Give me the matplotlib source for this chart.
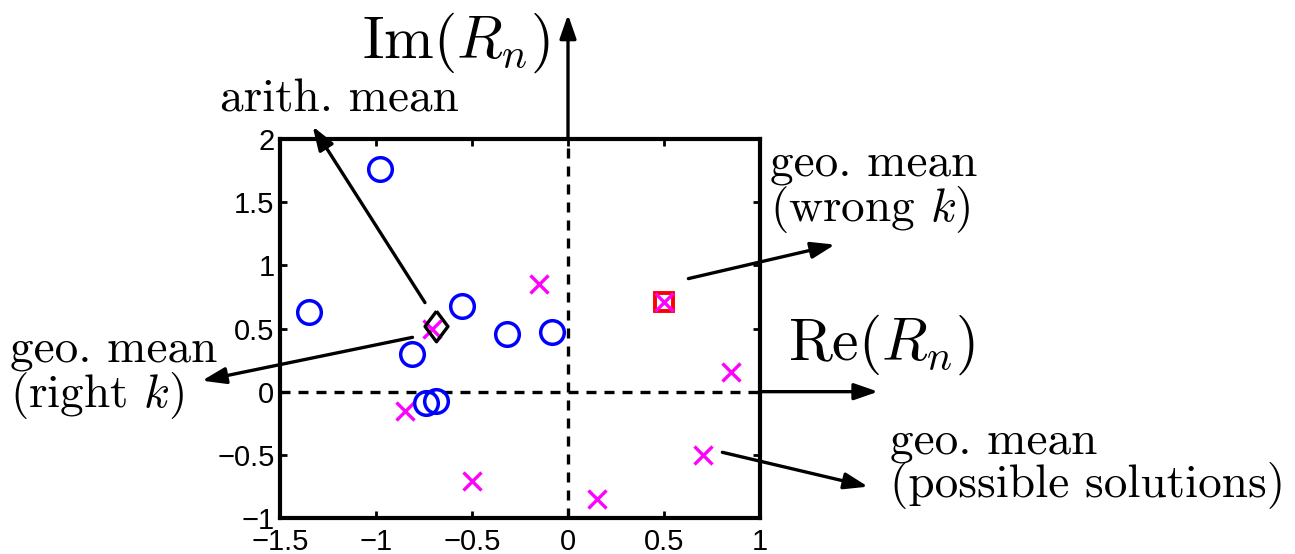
import numpy as np
import matplotlib
matplotlib.use("Agg")
import matplotlib.pyplot as plt

plt.rcParams['mathtext.fontset'] = 'cm'
plt.rcParams['font.family'] = ['Liberation Sans', 'DejaVu Sans']

# samples (blue circles)
circ_re = [-0.98, -1.35, -0.81, -0.55, -0.32, -0.085, -0.74, -0.69]
circ_im = [1.76, 0.63, 0.30, 0.68, 0.46, 0.47, -0.09, -0.07]

# geo. mean, possible solutions (magenta crosses)
sol_re = [-0.15, 0.50, 0.85, 0.705, 0.15, -0.50, -0.85, -0.71]
sol_im = [0.85, 0.707, 0.153, -0.50, -0.85, -0.71, -0.15, 0.50]

# arith. mean (diamond) and geo. mean with wrong k (square)
arith_re, arith_im = -0.69, 0.52
wrong_re, wrong_im = 0.50, 0.707

xticks = [-1.5, -1, -0.5, 0, 0.5, 1]
yticks = [-1, -0.5, 0, 0.5, 1, 1.5, 2]

fig = plt.figure(figsize=(12.95, 5.54), dpi=100)
ax = fig.add_axes([280/1295, 36/554, 480/1295, 379/554])
ax.set_xlim(-1.5, 1)
ax.set_ylim(-1, 2)

# dashed zero lines inside the box
ax.axhline(0, color='k', lw=2.4, ls=(0, (3.0, 2.4)), zorder=1)
ax.axvline(0, color='k', lw=2.4, ls=(0, (3.0, 2.4)), zorder=1)

ax.plot(sol_re, sol_im, 'x', color=(1, 0, 1), ms=13, mew=2.4, zorder=3)
ax.plot(circ_re, circ_im, 'o', mfc='none', mec=(0, 0, 1), ms=17, mew=2.5, zorder=4)
ax.plot([wrong_re], [wrong_im], 's', mfc='none', mec=(1, 0, 0), ms=13.5, mew=2.8, zorder=2)
diamond = [(0, 1), (0.75, 0), (0, -1), (-0.75, 0), (0, 1)]
ax.plot([arith_re], [arith_im], marker=diamond, ls='none', mfc='none',
        mec='k', ms=22, mew=2.4, zorder=5)

ax.set_xticks(xticks)
ax.set_yticks(yticks)
ax.set_xticklabels(['\u22121.5', '\u22121', '\u22120.5', '0', '0.5', '1'])
ax.set_yticklabels(['\u22121', '\u22120.5', '0', '0.5', '1', '1.5', '2'])
ax.tick_params(direction='in', top=True, right=True, length=5, width=2,
               labelsize=21)
ax.tick_params(axis='x', pad=7)
ax.tick_params(axis='y', pad=4)
for s in ax.spines.values():
    s.set_linewidth(3)

arr = dict(arrowstyle='-|>,head_length=0.72,head_width=0.25', lw=2.4, color='k',
           mutation_scale=20, shrinkA=0, shrinkB=0)

def arrow(x0, y0, x1, y1):
    ax.annotate('', xy=(x1, y1), xytext=(x0, y0), arrowprops=arr,
                annotation_clip=False)

# coordinate axes continuing outside the box
arrow(0, 2, 0, 2.985)
arrow(1, 0, 1.615, 0)
ax.text(-0.583, 2.76, r'$\mathrm{Im}(R_n)$', fontsize=43, ha='center', va='center')
ax.text(1.145, 0.37, r'$\mathrm{Re}(R_n)$', fontsize=43, ha='left', va='center')

# labels
arrow(-0.745, 0.705, -1.33, 2.10)
arrow(-0.81, 0.43, -1.906, 0.087)
arrow(0.627, 0.895, 1.39, 1.164)
arrow(0.804, -0.48, 1.5625, -0.752)

tkw = dict(family='cmr10', fontsize=34, linespacing=0.98, va='center')
ax.text(-1.193, 2.31, 'arith. mean', ha='center', **tkw)
ax.text(-2.906, 0.13, 'geo. mean\n(right $k$)', ha='left', **tkw)
ax.text(1.052, 1.6, 'geo. mean\n(wrong $k$)', ha='left', **tkw)
ax.text(1.677, -0.58, 'geo. mean\n(possible solutions)', ha='left', **tkw)

fig.savefig('out.png', dpi=100)
